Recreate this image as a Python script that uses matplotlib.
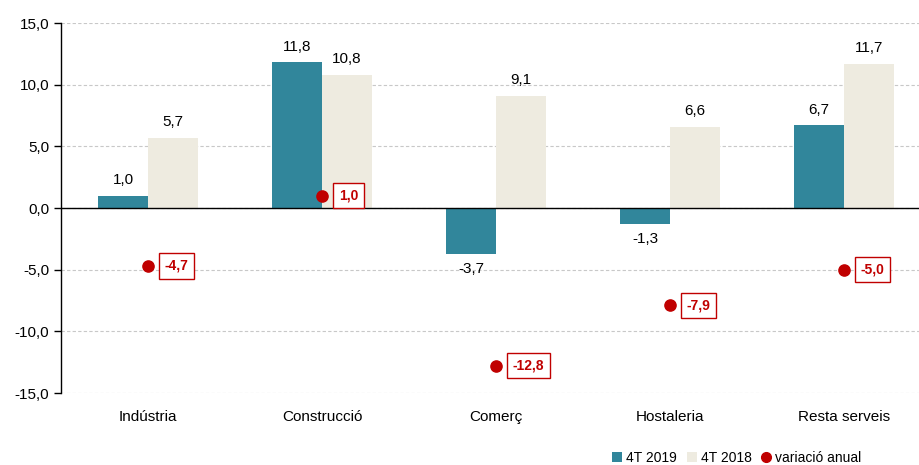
import numpy as np
import matplotlib
matplotlib.use('Agg')
import matplotlib.pyplot as plt
import matplotlib.ticker as ticker
from matplotlib.patches import Patch
from matplotlib.lines import Line2D

# ── dades ──
sectors = ['Indústria', 'Construcció', 'Comerç', 'Hostaleria', 'Resta serveis']
t2019 = [1.0, 11.8, -3.7, -1.3, 6.7]
t2018 = [5.7, 10.8, 9.1, 6.6, 11.7]
variacio = [-4.7, 1.0, -12.8, -7.9, -5.0]

BLUE = '#31869B'
BEIGE = '#EEEBE0'
RED = '#C00000'

plt.rcParams['font.family'] = ['Liberation Sans', 'DejaVu Sans']

def fmt(v):
    return f'{v:.1f}'.replace('.', ',')

fig = plt.figure(figsize=(9.19, 4.65), dpi=100, facecolor='white')
ax = fig.add_axes([61 / 919, 72 / 465, 870 / 919, 370 / 465])

x = np.arange(len(sectors))
w = 0.287
ax.bar(x - w / 2, t2019, width=w, color=BLUE, zorder=3)
ax.bar(x + w / 2, t2018, width=w, color=BEIGE, zorder=3)

for xi, v in zip(x - w / 2, t2019):
    ax.annotate(fmt(v), (xi, v), xytext=(0, 6 if v >= 0 else -6), textcoords='offset points',
                ha='center', va='bottom' if v >= 0 else 'top', fontsize=11)
for xi, v in zip(x + w / 2, t2018):
    ax.annotate(fmt(v), (xi, v), xytext=(0, 6 if v >= 0 else -6), textcoords='offset points',
                ha='center', va='bottom' if v >= 0 else 'top', fontsize=11)

ax.scatter(x, variacio, s=65, color=RED, zorder=5)
for xi, v in zip(x, variacio):
    ax.annotate(fmt(v), (xi, v), xytext=(12, 0), textcoords='offset points',
                ha='left', va='center', fontsize=10, fontweight='bold', color=RED,
                bbox=dict(boxstyle='square,pad=0.4', facecolor='white', edgecolor=RED, linewidth=1),
                zorder=6)

ax.set_xlim(-0.5, 4.5)
ax.set_ylim(-15, 15)
ax.yaxis.set_major_locator(ticker.MultipleLocator(5))
ax.yaxis.set_major_formatter(ticker.FuncFormatter(lambda v, p: fmt(v)))
ax.yaxis.grid(True, color='#C8C8C8', linestyle=(0, (3, 2)), linewidth=0.8, zorder=0)
ax.axhline(0, color='black', linewidth=1, zorder=4)

ax.set_xticks(x)
ax.set_xticklabels(sectors, fontsize=11)
ax.tick_params(axis='x', length=0, pad=12)
ax.tick_params(axis='y', labelsize=11, length=5, width=1, direction='out')

for s in ['top', 'right', 'bottom']:
    ax.spines[s].set_visible(False)
ax.spines['left'].set_color('black')
ax.spines['left'].set_linewidth(1)

handles = [
    Patch(facecolor=BLUE, edgecolor='none', label='4T 2019'),
    Patch(facecolor=BEIGE, edgecolor='none', label='4T 2018'),
    Line2D([0], [0], marker='o', color='none', markerfacecolor=RED, markeredgecolor=RED,
           markersize=7, label='variació anual'),
]
fig.legend(handles=handles, loc='lower right', bbox_to_anchor=(0.951, -0.027), ncol=3,
           frameon=False, fontsize=10, handlelength=0.7, handleheight=0.7,
           handletextpad=0.3, columnspacing=0.7)

fig.savefig('out.png', dpi=100, facecolor='white')
